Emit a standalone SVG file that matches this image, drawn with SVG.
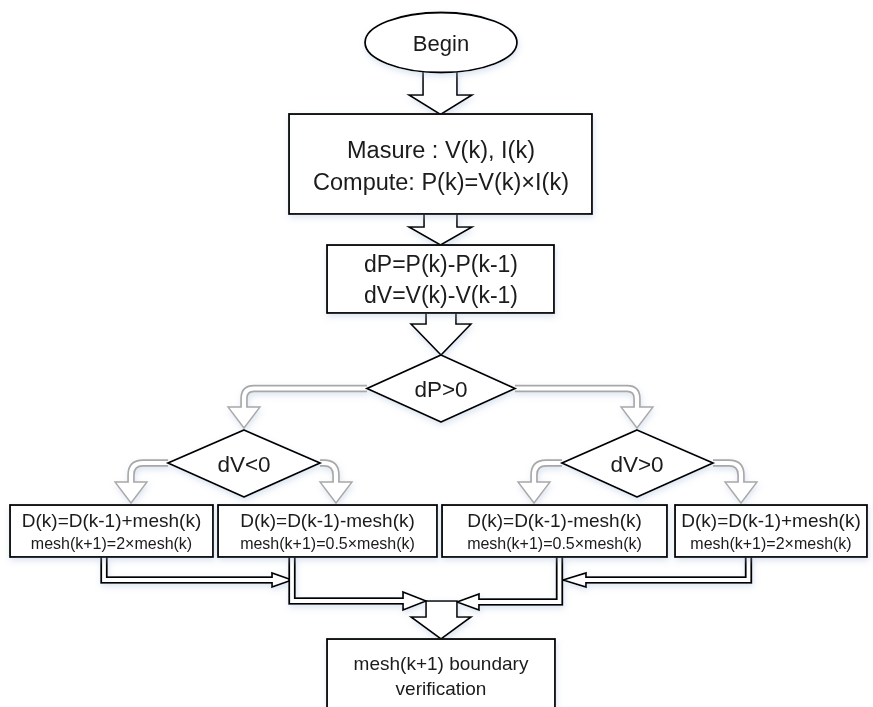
<svg xmlns="http://www.w3.org/2000/svg" width="873" height="707" viewBox="0 0 873 707">
  <defs>
    <filter id="glow" x="-10%" y="-10%" width="120%" height="130%">
      <feGaussianBlur in="SourceAlpha" stdDeviation="3"/>
      <feOffset dx="1" dy="3" result="b"/>
      <feFlood flood-color="#9fb6d6" flood-opacity="0.35"/>
      <feComposite in2="b" operator="in"/>
      <feMerge><feMergeNode/><feMergeNode in="SourceGraphic"/></feMerge>
    </filter>
  </defs>
  <style>
    .shape { fill: #ffffff; stroke: #000000; stroke-width: 1.8; stroke-linejoin: miter; }
    .blk { fill: #ffffff; stroke: #000000; stroke-width: 1.6; stroke-linejoin: miter; }
    .txt { font-family: "Liberation Sans", Arial, sans-serif; fill: #1a1a1a; text-anchor: middle; }
    .big { font-size: 23.5px; }
    .mid { font-size: 19px; }
    .small { font-size: 16px; }
    .gOuter { fill: none; stroke: #a8a8a8; stroke-width: 7.5; }
    .gInner { fill: none; stroke: #ffffff; stroke-width: 4.2; }
    .gHead { fill: #ffffff; stroke: #a8a8a8; stroke-width: 1.4; stroke-linejoin: miter; }
    .kOuter { fill: none; stroke: #000000; stroke-width: 7.5; stroke-linejoin: miter; }
    .kInner { fill: none; stroke: #ffffff; stroke-width: 3.8; stroke-linejoin: miter; }
    .kHead { fill: #ffffff; stroke: #000000; stroke-width: 1.7; stroke-linejoin: miter; }
  </style>

  <!-- connectors -->
  <g id="connectors" filter="url(#glow)">
    <!-- block arrows along the main flow -->
    <path class="blk" d="M423 68 V95 H409 L440.5 114.5 L472 95 H457 V68"/>
    <path class="blk" d="M424 214 V227 H409 L440.5 245 L472 227 H457 V214"/>
    <path class="blk" d="M426 313 V324 H411 L441 355 L471 324 H456 V313"/>

    <!-- grey curved branch arrows -->
    <path class="gOuter" d="M367 388.5 H254 Q244 388.5 244 398.5 V409"/>
    <polygon class="gHead" points="228,407 260,407 244,428"/>
    <path class="gInner" d="M367 388.5 H254 Q244 388.5 244 398.5 V409"/>

    <path class="gOuter" d="M515 388.5 H627 Q637 388.5 637 398.5 V409"/>
    <polygon class="gHead" points="621,407 653,407 637,428"/>
    <path class="gInner" d="M515 388.5 H627 Q637 388.5 637 398.5 V409"/>

    <path class="gOuter" d="M168 463 H143 Q131 463 131 475 V484"/>
    <polygon class="gHead" points="115,482 147,482 131,503"/>
    <path class="gInner" d="M168 463 H143 Q131 463 131 475 V484"/>

    <path class="gOuter" d="M320 463 H324 Q336 463 336 475 V484"/>
    <polygon class="gHead" points="320,482 352,482 336,503"/>
    <path class="gInner" d="M320 463 H324 Q336 463 336 475 V484"/>

    <path class="gOuter" d="M562 463 H546 Q534 463 534 475 V484"/>
    <polygon class="gHead" points="518,482 550,482 534,503"/>
    <path class="gInner" d="M562 463 H546 Q534 463 534 475 V484"/>

    <path class="gOuter" d="M713 463 H729 Q741 463 741 475 V484"/>
    <polygon class="gHead" points="725,482 757,482 741,503"/>
    <path class="gInner" d="M713 463 H729 Q741 463 741 475 V484"/>

    <!-- merging double-line arrows -->
    <path class="kOuter" d="M104 557 V580 H274"/>
    <polygon class="kHead" points="272,573 272,587 292,580"/>
    <path class="kInner" d="M104 555 V580 H275"/>

    <path class="kOuter" d="M292 557 V601 H405"/>
    <polygon class="kHead" points="403,592 403,610 426,601"/>
    <path class="kInner" d="M292 555 V601 H406"/>

    <path class="kOuter" d="M748.5 557 V580 H584"/>
    <polygon class="kHead" points="586,573 586,587 563,580"/>
    <path class="kInner" d="M748.5 555 V580 H583"/>

    <path class="kOuter" d="M559.5 557 V602 H477"/>
    <polygon class="kHead" points="479,594 479,610 457,602"/>
    <path class="kInner" d="M559.5 555 V602 H478"/>

    <path class="blk" d="M426 601 H457 V617 H471 L441 639 L411 617 H426 Z"/>
  </g>

  <!-- nodes -->
  <g id="begin" filter="url(#glow)">
    <ellipse class="shape" cx="441" cy="42.5" rx="76" ry="30"/>
    <text class="txt" x="441" y="50.5" font-size="22px">Begin</text>
  </g>

  <g id="measure" filter="url(#glow)">
    <rect class="shape" x="289" y="114" width="303" height="100"/>
    <text class="txt big" x="441" y="158">Masure : V(k), I(k)</text>
    <text class="txt big" x="441" y="190">Compute: P(k)=V(k)×I(k)</text>
  </g>

  <g id="differences" filter="url(#glow)">
    <rect class="shape" x="327" y="245" width="227" height="68"/>
    <text class="txt" x="441" y="272" font-size="23px">dP=P(k)-P(k-1)</text>
    <text class="txt" x="441" y="303" font-size="23px">dV=V(k)-V(k-1)</text>
  </g>

  <g id="check-dp" filter="url(#glow)">
    <polygon class="shape" points="441,355 515,388.5 441,422 367,388.5"/>
    <text class="txt" x="441" y="397" font-size="22.5px">dP&gt;0</text>
  </g>

  <g id="check-dv-neg" filter="url(#glow)">
    <polygon class="shape" points="244,430 320,463 244,497 168,463"/>
    <text class="txt" x="244" y="472" font-size="22.5px">dV&lt;0</text>
  </g>

  <g id="check-dv-pos" filter="url(#glow)">
    <polygon class="shape" points="637,430 713,463 637,497 562,463"/>
    <text class="txt" x="637" y="472" font-size="22.5px">dV&gt;0</text>
  </g>

  <g id="step-a" filter="url(#glow)">
    <rect class="shape" x="10" y="505" width="203" height="52"/>
    <text class="txt mid" x="111.5" y="527">D(k)=D(k-1)+mesh(k)</text>
    <text class="txt small" x="111.5" y="549">mesh(k+1)=2×mesh(k)</text>
  </g>

  <g id="step-b" filter="url(#glow)">
    <rect class="shape" x="218" y="505" width="219" height="52"/>
    <text class="txt mid" x="327.5" y="527">D(k)=D(k-1)-mesh(k)</text>
    <text class="txt small" x="327.5" y="549">mesh(k+1)=0.5×mesh(k)</text>
  </g>

  <g id="step-c" filter="url(#glow)">
    <rect class="shape" x="442" y="505" width="225" height="52"/>
    <text class="txt mid" x="554.5" y="527">D(k)=D(k-1)-mesh(k)</text>
    <text class="txt small" x="554.5" y="549">mesh(k+1)=0.5×mesh(k)</text>
  </g>

  <g id="step-d" filter="url(#glow)">
    <rect class="shape" x="675" y="505" width="192" height="52"/>
    <text class="txt mid" x="771" y="527">D(k)=D(k-1)+mesh(k)</text>
    <text class="txt small" x="771" y="549">mesh(k+1)=2×mesh(k)</text>
  </g>

  <g id="verify" filter="url(#glow)">
    <rect class="shape" x="327" y="639" width="228" height="90"/>
    <text class="txt mid" x="441" y="670">mesh(k+1) boundary</text>
    <text class="txt mid" x="441" y="695">verification</text>
  </g>
</svg>
